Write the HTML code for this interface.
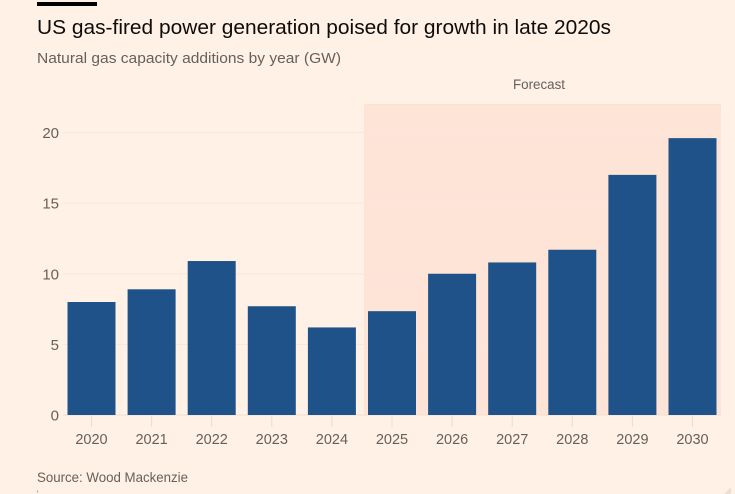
<!DOCTYPE html>
<html>
<head>
<meta charset="utf-8">
<style>
html,body{margin:0;padding:0;background:#fff1e5;width:735px;height:494px;overflow:hidden}
svg{display:block}
text{font-family:"Liberation Sans",sans-serif}
</style>
</head>
<body>
<svg id="chart" xmlns="http://www.w3.org/2000/svg" width="735" height="494" viewBox="0 0 735 494">
  <rect x="0" y="0" width="735" height="494" fill="#fff1e5"/>
  <rect x="37" y="2" width="60" height="4" fill="#000"/>
  <text x="37" y="34" font-size="20" fill="#0d0c0b" textLength="574" lengthAdjust="spacingAndGlyphs">US gas-fired power generation poised for growth in late 2020s</text>
  <text x="37" y="63" font-size="15" fill="#66605c" textLength="304" lengthAdjust="spacingAndGlyphs">Natural gas capacity additions by year (GW)</text>
  <rect x="364" y="104" width="357" height="311" fill="#fde4d6"/>
  <line x1="364" x2="721" y1="104.5" y2="104.5" stroke="#f6e3d6" stroke-width="1"/>
  <text x="539" y="89" font-size="13.5" fill="#66605c" text-anchor="middle" textLength="52" lengthAdjust="spacingAndGlyphs">Forecast</text>
  <g id="grid"></g>
  <g id="bars"></g>
  <g id="xaxis"></g>
  <text x="37" y="482" font-size="14" fill="#66605c" textLength="151" lengthAdjust="spacingAndGlyphs">Source: Wood Mackenzie</text>
  <rect x="37" y="490.5" width="1" height="2" fill="#a59d97"/>
  <polygon points="731,487 731,494 724,494" fill="#ece0d6"/>
</svg>
<script>
const categories = ["2020","2021","2022","2023","2024","2025","2026","2027","2028","2029","2030"];
const capacityValues = [8.0,8.9,10.9,7.7,6.2,7.35,10.0,10.8,11.7,17.0,19.6];
const yTicks = [0,5,10,15,20];

const NS = "http://www.w3.org/2000/svg";
const y0 = 415, pxPerUnit = 14.125;
const firstCenter = 91.5, step = 60.1, barWidth = 48;
function yScale(v){ return y0 - v * pxPerUnit; }
function xScale(i){ return firstCenter + i * step; }
function make(tag, attrs, parent, txt){
  const el = document.createElementNS(NS, tag);
  for (const k in attrs) el.setAttribute(k, attrs[k]);
  if (txt !== undefined) el.textContent = txt;
  parent.appendChild(el);
  return el;
}
const grid = document.getElementById("grid");
const bars = document.getElementById("bars");
const xaxis = document.getElementById("xaxis");

yTicks.forEach(function(t){
  const line = make("line", {x1:63, x2:721, y1:yScale(t), y2:yScale(t), stroke: t === 0 ? "#f2dfd3" : "#f8e7dc", "stroke-width":1}, grid);
  
  
  const label = make("text", {x:59, y:yScale(t)+5.5, "font-size":15, fill:"#66605c", "text-anchor":"end"}, grid, String(t));
  
  
});

categories.forEach(function(c, i){
  const v = capacityValues[i];
  const bar = make("rect", {x:xScale(i)-barWidth/2, y:yScale(v), width:barWidth, height:y0-yScale(v), fill:"#1f5289"}, bars);
  
  
  const tick = make("line", {x1:xScale(i), x2:xScale(i), y1:y0, y2:y0+12, stroke:"#ecdcd1", "stroke-width":1}, xaxis);
  
  
  const label = make("text", {x:xScale(i), y:444, "font-size":14.5, fill:"#66605c", "text-anchor":"middle"}, xaxis, c);
  
  
});
</script>
</body>
</html>
